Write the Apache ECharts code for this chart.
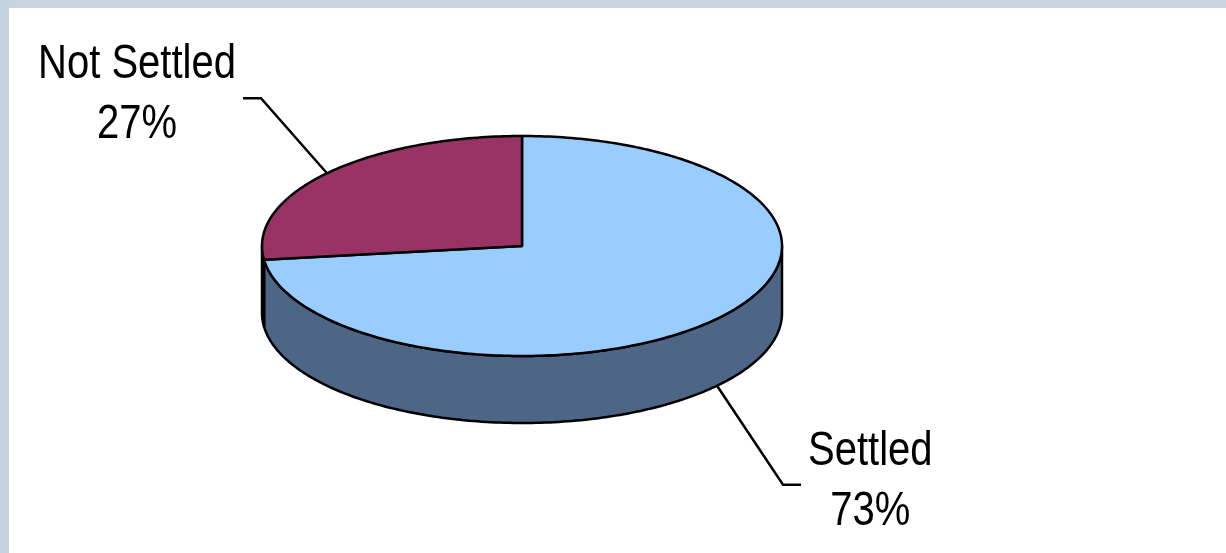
<!DOCTYPE html>
<html>
<head>
<meta charset="utf-8">
<script src="https://cdn.jsdelivr.net/npm/echarts@6/dist/echarts.min.js"></script>
<style>
    html, body { margin: 0; padding: 0; background: #fff; }
    #chart { width: 1226px; height: 553px; }
</style>
</head>
<body>
<div id="chart"></div>
<script>
    // data
    const categories = ['Settled', 'Not Settled'];
    const values = [73, 27];

    // look
    const topColors = ['#99ccff', '#993366'];
    const sideColors = ['#4d6685', '#5c1f3d'];
    const labelFont = "40px 'Liberation Sans', Arial, sans-serif";
    const labelStretch = 1.2; // labels in the original are drawn taller than wide

    // 3d pie layout (pixels)
    const cx = 522, cy = 246, rx = 260, ry = 110, depth = 67;
    const leaderX = 66, leaderUp = 75, leaderDown = 99, leaderTail = 18, labelGap = 7;

    const total = values.reduce((a, b) => a + b, 0);
    // slices go clockwise from 12 o'clock, angles in degrees (math convention)
    let acc = 0;
    const slices = values.map((v) => {
        const a0 = 90 - acc / total * 360;
        acc += v;
        const a1 = 90 - acc / total * 360;
        return { a0: a0, a1: a1, pct: Math.round(v / total * 100) };
    });

    function pt(deg, dz) {
        const r = deg * Math.PI / 180;
        return [cx + rx * Math.cos(r), cy - ry * Math.sin(r) + dz];
    }
    function arc(from, to, dz) {
        const pts = [];
        const n = Math.max(2, Math.ceil(Math.abs(to - from)));
        for (let i = 0; i <= n; i++) {
            pts.push(pt(from + (to - from) * i / n, dz));
        }
        return pts;
    }

    const measure = document.createElement('canvas').getContext('2d');
    measure.font = labelFont;

    const outline = { stroke: '#000', lineWidth: 2.5, lineJoin: 'round' };

    function renderSide(params) {
        const s = slices[params.dataIndex];
        const hi = Math.min(s.a0, 0), lo = Math.max(s.a1, -180);
        if (lo >= hi) return null;
        const pts = arc(hi, lo, 0).concat(arc(lo, hi, depth));
        return {
            type: 'polygon',
            shape: { points: pts },
            style: Object.assign({ fill: sideColors[params.dataIndex] }, outline)
        };
    }

    function renderTop(params) {
        const s = slices[params.dataIndex];
        const pts = [[cx, cy]].concat(arc(s.a0, s.a1, 0));
        return {
            type: 'polygon',
            shape: { points: pts },
            style: Object.assign({ fill: topColors[params.dataIndex] }, outline)
        };
    }

    function renderLabel(params) {
        const i = params.dataIndex;
        const s = slices[i];
        const mid = (s.a0 + s.a1) / 2;
        const r = mid * Math.PI / 180;
        const up = Math.sin(r) >= 0;
        const sx = Math.cos(r) >= 0 ? 1 : -1;
        const anchor = pt(mid, up ? 0 : depth);
        const bend = [anchor[0] + sx * leaderX, anchor[1] + (up ? -leaderUp : leaderDown)];
        const end = [bend[0] + sx * leaderTail, bend[1]];
        const lines = [categories[i], s.pct + '%'];
        const w = Math.max.apply(null, lines.map((t) => measure.measureText(t).width));
        return {
            type: 'group',
            children: [
                {
                    type: 'polyline',
                    shape: { points: [anchor, bend, end] },
                    style: { stroke: '#000', lineWidth: 2.5, fill: null }
                },
                {
                    type: 'text',
                    x: end[0] + sx * (labelGap + w / 2),
                    y: end[1] - 3,
                    scaleY: labelStretch,
                    style: {
                        text: lines.join('\n'),
                        x: 0,
                        y: 0,
                        align: 'center',
                        verticalAlign: 'middle',
                        font: labelFont,
                        lineHeight: 60 / labelStretch,
                        fill: '#000'
                    }
                }
            ]
        };
    }

    const chart = echarts.init(document.getElementById('chart'));
    const seriesData = values.map((v, i) => ({ name: categories[i], value: v }));

    chart.setOption({
        backgroundColor: '#ffffff',
        animation: false,
        graphic: [
            { type: 'rect', left: 0, top: 0, shape: { width: 1226, height: 8 }, style: { fill: '#c9d4dc' } },
            { type: 'rect', left: 0, top: 0, shape: { width: 9, height: 553 }, style: { fill: '#c3d3df' } }
        ],
        series: [
            { type: 'custom', coordinateSystem: 'none', data: seriesData, renderItem: renderSide, silent: true },
            { type: 'custom', coordinateSystem: 'none', data: seriesData, renderItem: renderTop, silent: true },
            { type: 'custom', coordinateSystem: 'none', data: seriesData, renderItem: renderLabel, silent: true }
        ]
    });
</script>
</body>
</html>
